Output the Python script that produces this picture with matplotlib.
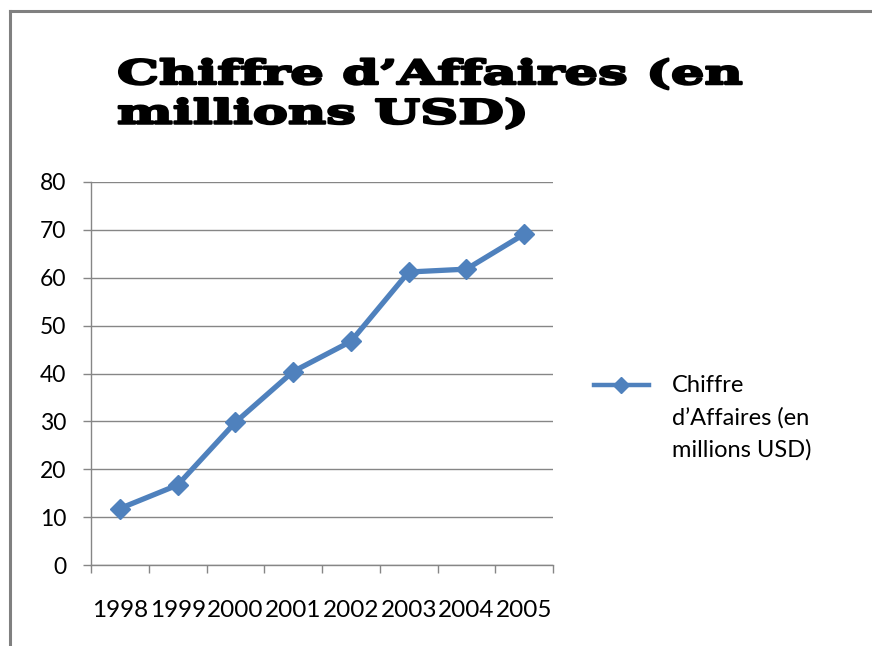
import matplotlib.pyplot as plt
from matplotlib.lines import Line2D
from matplotlib.ticker import MultipleLocator, FixedLocator
from matplotlib.patheffects import AbstractPathEffect
from matplotlib.transforms import Affine2D

years = ["1998", "1999", "2000", "2001", "2002", "2003", "2004", "2005"]
revenue = [11.8, 16.7, 29.8, 40.4, 46.7, 61.2, 61.8, 69.1]
series_name = "Chiffre\nd\u2019Affaires (en\nmillions USD)"
title = "Chiffre d\u2019Affaires (en\nmillions USD)"

blue = "#4F81BD"
grey = "#868686"
W, H = 872, 646


class WideBold(AbstractPathEffect):
    """Stretch glyphs horizontally around x0 and thicken them with an outline."""

    def __init__(self, sx, x0, lw):
        super().__init__()
        self.sx, self.x0, self.lw = sx, x0, lw

    def draw_path(self, renderer, gc, tpath, affine, rgbFace=None):
        aff = affine + Affine2D().translate(-self.x0, 0).scale(self.sx, 1).translate(self.x0, 0)
        gc0 = renderer.new_gc()
        gc0.copy_properties(gc)
        gc0.set_linewidth(self.lw)
        gc0.set_foreground("black")
        renderer.draw_path(gc0, tpath, aff, rgbFace)
        gc0.restore()


fig = plt.figure(figsize=(W / 100, H / 100), dpi=100)
ax = fig.add_axes([91 / W, 1 - 565 / H, (553 - 91) / W, (565 - 182) / H])

x = list(range(len(years)))
ax.plot(x, revenue, color=blue, lw=3.8, marker="D", ms=10, mec=blue, mfc=blue)

ax.set_xlim(-0.5, len(years) - 0.5)
ax.set_ylim(0, 80)
ax.yaxis.set_major_locator(MultipleLocator(10))
ax.grid(axis="y", color=grey, lw=1)
ax.set_axisbelow(True)

# category ticks between labels, like the spreadsheet chart
ax.set_xticks(x)
ax.set_xticklabels(years, fontsize=17.5, family="Lato")
ax.xaxis.set_minor_locator(FixedLocator([i - 0.5 for i in range(len(years) + 1)]))
ax.tick_params(axis="x", which="major", length=0, pad=25)
ax.tick_params(axis="x", which="minor", length=6, width=1, color=grey, direction="out")
ax.tick_params(axis="y", length=6, width=1, color=grey, pad=12, labelsize=16.5)
for lab in ax.get_yticklabels():
    lab.set_family("Lato")

for side in ["top", "right"]:
    ax.spines[side].set_visible(False)
for side in ["left", "bottom"]:
    ax.spines[side].set_color(grey)
    ax.spines[side].set_linewidth(1)

# title: very wide heavy serif, emulated by stretching DejaVu Serif Bold
t = fig.text(117 / W, 1 - 58 / H, title, ha="left", va="top", fontsize=24,
             family="DejaVu Serif", weight="bold", linespacing=1.25)
fig.canvas.draw()
tw = t.get_window_extent().width
t.set_path_effects([WideBold(627 / tw, 117 * fig.dpi / 100, 1.8)])

# legend drawn by hand so the marker sits on the first text line
ly = 1 - 385 / H
fig.add_artist(Line2D([594 / W, 621 / W, 649 / W], [ly, ly, ly], transform=fig.transFigure,
                      color=blue, lw=3.2, marker="D", ms=8, markevery=[1]))
fig.text(672 / W, 1 - 375 / H, series_name, ha="left", va="top", fontsize=17,
         family="Lato", linespacing=1.62)

# outer frame (top and left edges visible)
fig.add_artist(Line2D([9.5 / W, 1], [1 - 10.5 / H, 1 - 10.5 / H], transform=fig.transFigure,
                      color="#808080", lw=2.2))
fig.add_artist(Line2D([9.5 / W, 9.5 / W], [0, 1 - 10.5 / H], transform=fig.transFigure,
                      color="#808080", lw=2.2))

fig.savefig("out.png", dpi=100)
